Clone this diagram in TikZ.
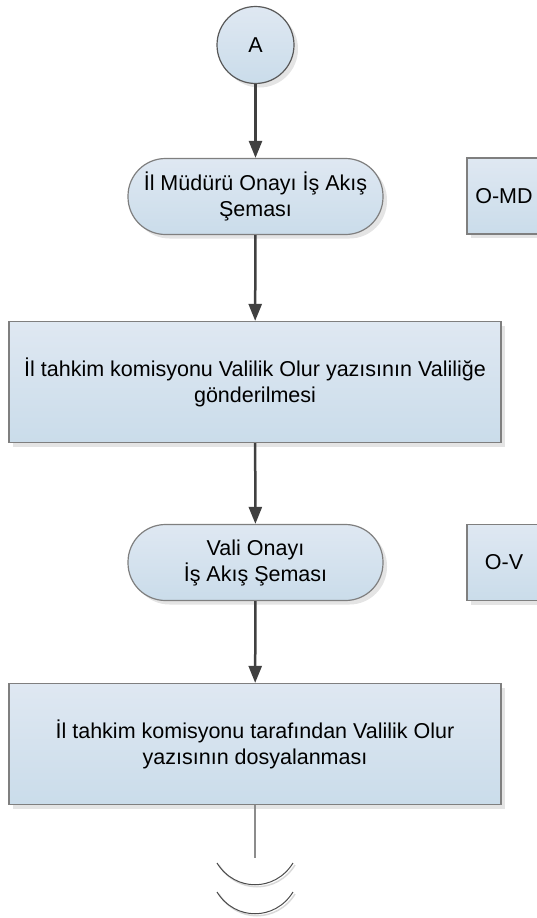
\documentclass[tikz,border=0pt]{standalone}
\usepackage{fontspec}
\setmainfont{Liberation Sans}
\usepackage{xcolor}
\usepackage{tikz}
\usetikzlibrary{shapes.geometric, arrows.meta, positioning, calc, shadows}
\definecolor{flowtop}{HTML}{DFE8F2}
\definecolor{flowbot}{HTML}{CADCEA}
\definecolor{flowline}{HTML}{7F7F7F}
\definecolor{flowarrow}{HTML}{404040}
\definecolor{flowshadow}{HTML}{E4E4E4}

\tikzset{
  flowbox/.style={rectangle, draw=flowline, line width=1.2pt, top color=flowtop, bottom color=flowbot,
    drop shadow={shadow xshift=4pt, shadow yshift=-4pt, fill=flowshadow, opacity=1},
    align=center, inner sep=4pt, font=\fontsize{21.5}{26}\selectfont},
  termbox/.style={flowbox, rounded corners=37.5pt, minimum width=255pt, minimum height=76pt},
  procbox/.style={flowbox, minimum width=492pt, minimum height=121pt},
  refbox/.style={flowbox, minimum width=74pt, minimum height=76pt},
  flowarr/.style={draw=flowarrow, line width=2.5pt, -{Triangle[length=17pt,width=13pt]}}
}

\begin{document}
\begin{tikzpicture}[x=1pt, y=-1pt]
  \useasboundingbox (0,0) rectangle (537,918);
  \clip (0,0) rectangle (537,918);

  % connector A
  \node[flowbox, circle, draw=black!65, minimum size=77pt, inner sep=0pt] (conA) at (255.5,45) {A};

  % first sub-flow
  \node[termbox] (mudur) at (255.5,196.5) {İl Müdürü Onayı İş Akış\\Şeması};
  \node[refbox] (omd) at (504,196) {O-MD};

  \node[procbox] (gonder) at (255,382) {İl tahkim komisyonu Valilik Olur yazısının Valiliğe\\gönderilmesi};

  % second sub-flow
  \node[termbox] (vali) at (255.5,562.5) {Vali Onayı\\İş Akış Şeması};
  \node[refbox] (ov) at (504,562.5) {O-V};

  \node[procbox] (dosya) at (255,744) {İl tahkim komisyonu tarafından Valilik Olur\\yazısının dosyalanması};

  \draw[flowarr] (conA) -- (mudur);
  \draw[flowarr] (mudur) -- (gonder);
  \draw[flowarr] (gonder) -- (vali);
  \draw[flowarr] (vali) -- (dosya);

  % open end
  \coordinate (tail) at (255,858);
  \draw[draw=black!45, line width=2pt] (dosya) -- (tail);
  \foreach \dy in {0,29} {
    \draw[white!85!black, line width=1.5pt] (219,865+\dy) .. controls (237,894+\dy) and (277,894+\dy) .. (295,865+\dy);
    \draw[black!70, line width=1pt] (217,863+\dy) .. controls (235,892+\dy) and (275,892+\dy) .. (293,863+\dy);
  }
\end{tikzpicture}
\end{document}
